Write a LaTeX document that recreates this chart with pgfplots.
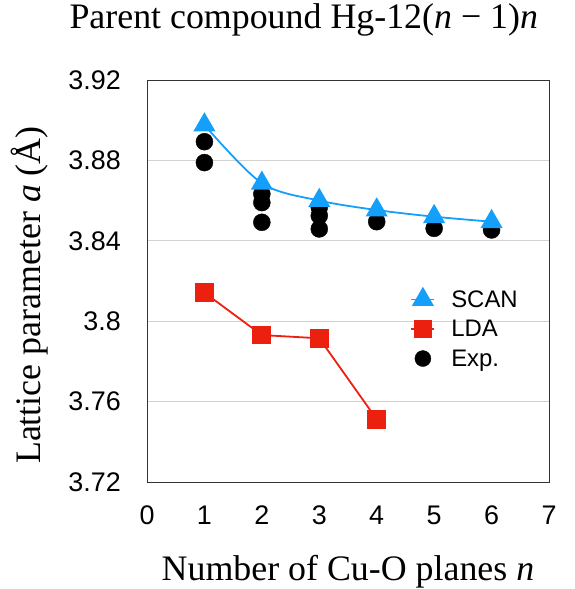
\documentclass[border=0pt]{standalone}
\usepackage{fontspec}
\setmainfont{Liberation Serif}
\setsansfont{Liberation Sans}
\usepackage{pgfplots}
\pgfplotsset{compat=1.18}
\definecolor{scan}{RGB}{20,160,250}
\definecolor{lda}{RGB}{235,32,15}
\begin{document}
\begin{tikzpicture}
\path[use as bounding box] (-147bp,-107bp) rectangle (428bp,482bp);
\begin{axis}[
  at={(0,0)}, anchor=south west,
  scale only axis, width=402bp, height=402bp,
  xmin=0, xmax=7, ymin=3.72, ymax=3.92,
  xtick={0,1,...,7},
  ytick={3.72,3.76,3.80,3.84,3.88,3.92},
  yticklabels={3.72,3.76,3.8,3.84,3.88,3.92},
  major tick length=0pt,
  ymajorgrids, grid style={gray!35, line width=0.8pt},
  axis line style={black!80, line width=0.9pt},
  /pgf/number format/assume math mode=true,
  ticklabel style={font=\fontsize{27}{27}\selectfont\sffamily},
  xticklabel style={inner sep=0pt, yshift=-24bp},
  yticklabel style={inner sep=0pt, xshift=-26bp},
  xlabel={Number of Cu-O planes \textit{n}},
  ylabel={Lattice parameter \textit{a} (Å)},
  label style={font=\fontsize{36}{36}\selectfont},
  xlabel style={at={(rel axis cs:0.5,0)}, anchor=base, yshift=-98bp},
  ylabel style={at={(rel axis cs:0,0.465)}, anchor=base, yshift=106bp},
  title={Parent compound Hg-12(\textit{n} − 1)\textit{n}},
  title style={font=\fontsize{36}{36}\selectfont, at={(rel axis cs:0.39,1)}, anchor=base, yshift=46bp},
  legend style={at={(rel axis cs:0.655,0.482)}, anchor=north west, draw=none, fill=none,
    font=\fontsize{24}{24}\selectfont\sffamily, inner sep=0pt, row sep=7.5bp,
    nodes={inner xsep=4bp, inner ysep=2bp},
    /tikz/every odd column/.append style={column sep=12bp}},
  legend cell align=left,
  legend image code/.code={\draw[#1] (0bp,0bp) -- (23bp,0bp); \draw[#1, only marks] plot coordinates {(11.5bp,0bp)};},
]
\addplot[only marks, mark=*, mark size=8.5bp, black, forget plot] coordinates {
(1,3.8893) (1,3.8789)
(2,3.8633) (2,3.8590) (2,3.8492)
(3,3.8567) (3,3.8525) (3,3.8459)
(4,3.8495) (5,3.8462) (6,3.8454)
};
\addplot[scan, line width=1.8pt, smooth, mark=triangle*, mark size=11bp, mark options={solid, fill=scan, draw=scan}] coordinates {
(1,3.8976) (2,3.8686) (3,3.8600) (4,3.8553) (5,3.8520) (6,3.8495)
};
\addlegendentry{SCAN}
\addplot[lda, line width=1.8pt, mark=square*, mark size=8.5bp, mark options={fill=lda, draw=lda}] coordinates {
(1,3.8142) (2,3.7931) (3,3.7915) (4,3.7512)
};
\addlegendentry{LDA}
\addlegendimage{legend image code/.code={\fill[black] (11.5bp,0bp) circle (8bp);}}
\addlegendentry{Exp.}
\end{axis}
\end{tikzpicture}
\end{document}
